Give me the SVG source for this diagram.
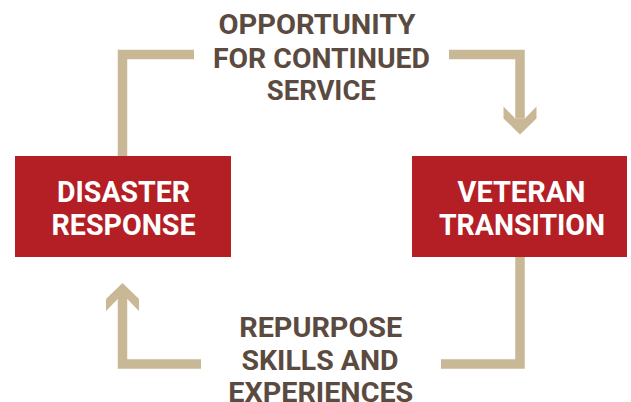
<svg xmlns="http://www.w3.org/2000/svg" width="631" height="402" viewBox="0 0 631 402">
<style>
.box{fill:#b41f25}
.bt{font-family:Roboto,"Liberation Sans",sans-serif;font-weight:700;font-size:29px;fill:#ffffff;text-anchor:middle}
.lt{font-family:Roboto,"Liberation Sans",sans-serif;font-weight:700;font-size:28.5px;fill:#5b4a40;text-anchor:middle}
.con{fill:none;stroke:#c9b896;stroke-width:9.5;stroke-linejoin:miter;stroke-linecap:butt}
</style>
<defs>
<marker id="chev" markerUnits="userSpaceOnUse" viewBox="-13 -17 30 34" markerWidth="30" markerHeight="34" refX="0" refY="0" orient="auto" overflow="visible">
<path d="M16,0 L0,-16.5 L-12,-16.5 L0,-4.75 L0,4.75 L-12,16.5 L0,16.5 Z" fill="#c9b896"/>
</marker>
</defs>
<rect width="631" height="402" fill="#ffffff"/>
<g id="connectors">
<polyline class="con" points="122.5,156 122.5,54.5 194,54.5"/>
<polyline class="con" points="449,54.5 520,54.5 520,118.5" marker-end="url(#chev)"/>
<polyline class="con" points="520,257 520,364 441,364"/>
<polyline class="con" points="201,364 122.5,364 122.5,299" marker-end="url(#chev)"/>
</g>
<g id="disaster-response">
<rect class="box" x="15" y="156" width="216" height="101"/>
<text class="bt" x="123.5" y="201.5" textLength="133" lengthAdjust="spacingAndGlyphs">DISASTER</text>
<text class="bt" x="123.5" y="235" textLength="144" lengthAdjust="spacingAndGlyphs">RESPONSE</text>
</g>
<g id="veteran-transition">
<rect class="box" x="412" y="156" width="215" height="101"/>
<text class="bt" x="521.5" y="201.5" textLength="128" lengthAdjust="spacingAndGlyphs">VETERAN</text>
<text class="bt" x="522" y="235" textLength="166" lengthAdjust="spacingAndGlyphs">TRANSITION</text>
</g>
<g id="label-top">
<text class="lt" x="317" y="34" textLength="197" lengthAdjust="spacingAndGlyphs">OPPORTUNITY</text>
<text class="lt" x="321.5" y="67.5" textLength="217" lengthAdjust="spacingAndGlyphs">FOR CONTINUED</text>
<text class="lt" x="321.3" y="100" textLength="109" lengthAdjust="spacingAndGlyphs">SERVICE</text>
</g>
<g id="label-bottom">
<text class="lt" x="320.7" y="337" textLength="163" lengthAdjust="spacingAndGlyphs">REPURPOSE</text>
<text class="lt" x="320" y="369.5" textLength="157" lengthAdjust="spacingAndGlyphs">SKILLS AND</text>
<text class="lt" x="320.8" y="401.5" textLength="185" lengthAdjust="spacingAndGlyphs">EXPERIENCES</text>
</g>
</svg>
